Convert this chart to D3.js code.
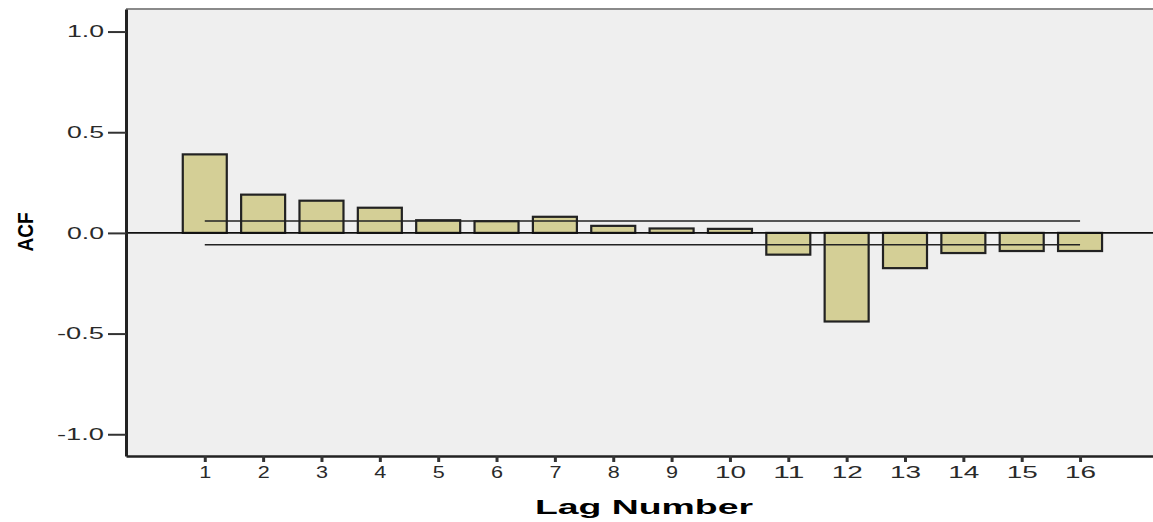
<!DOCTYPE html>
<html>
<head>
<meta charset="utf-8">
<script src="https://cdn.jsdelivr.net/npm/d3@7"></script>
<style>
  body { margin: 0; background: #fff; }
  svg { display: block; }
  text { font-family: "Liberation Sans", Arial, sans-serif; }
</style>
</head>
<body>
<div id="chart"></div>
<script>
// lag numbers and autocorrelations
const lags = [1, 2, 3, 4, 5, 6, 7, 8, 9, 10, 11, 12, 13, 14, 15, 16];
const acf = [0.39, 0.19, 0.16, 0.125, 0.063, 0.058, 0.08, 0.035, 0.022, 0.02,
             -0.108, -0.44, -0.175, -0.10, -0.09, -0.09];
const confUpper = 0.059;
const confLower = -0.059;
const yTicks = [-1.0, -0.5, 0.0, 0.5, 1.0];

const width = 1153, height = 522;
const margin = {top: 9, right: 0, bottom: 66, left: 126};

const svg = d3.select('#chart').append('svg')
  .attr('width', width)
  .attr('height', height);

const x = d3.scaleLinear().domain([-0.35, 17.25]).range([margin.left, width - margin.right]);
const y = d3.scaleLinear().domain([-1.108, 1.112]).range([height - margin.bottom, margin.top]);
const barW = 44;

// plot background
svg.append('rect')
  .attr('x', margin.left).attr('y', margin.top)
  .attr('width', width - margin.right - margin.left)
  .attr('height', height - margin.bottom - margin.top)
  .attr('fill', '#efefef');

// top frame line
svg.append('line')
  .attr('x1', margin.left).attr('x2', width)
  .attr('y1', margin.top).attr('y2', margin.top)
  .attr('stroke', '#8a8a8a').attr('stroke-width', 2);

// bars
svg.append('g').selectAll('rect')
  .data(acf)
  .enter().append('rect')
  .attr('x', (d, i) => x(lags[i]) - barW / 2)
  .attr('y', d => y(Math.max(0, d)))
  .attr('width', barW)
  .attr('height', d => Math.abs(y(d) - y(0)))
  .attr('fill', '#d4cf96')
  .attr('stroke', '#222')
  .attr('stroke-width', 2.2);

// zero reference line
svg.append('line')
  .attr('x1', margin.left).attr('x2', width)
  .attr('y1', y(0)).attr('y2', y(0))
  .attr('stroke', '#111').attr('stroke-width', 1.6);

// confidence limits
[confUpper, confLower].forEach(v => {
  svg.append('line')
    .attr('x1', x(lags[0])).attr('x2', x(lags[lags.length - 1]))
    .attr('y1', y(v)).attr('y2', y(v))
    .attr('stroke', '#222').attr('stroke-width', 1.6);
});

// y axis
const yAxis = svg.append('g')
  .attr('transform', 'translate(' + margin.left + ',0)')
  .call(d3.axisLeft(y).tickValues(yTicks).tickSize(18).tickSizeOuter(0).tickPadding(4)
    .tickFormat(d => d.toFixed(1)));
yAxis.select('.domain').attr('stroke', '#222').attr('stroke-width', 3);
yAxis.selectAll('.tick line').attr('stroke', '#333').attr('stroke-width', 2);
yAxis.selectAll('.tick text')
  .attr('fill', '#2a2a2a')
  .style('font-size', '16px')
  .attr('textLength', d => d < 0 ? 47 : 37)
  .attr('lengthAdjust', 'spacingAndGlyphs');

// x axis
const xAxis = svg.append('g')
  .attr('transform', 'translate(0,' + (height - margin.bottom) + ')')
  .call(d3.axisBottom(x).tickValues(lags).tickSize(6).tickSizeOuter(0).tickPadding(5)
    .tickFormat(d3.format('d')));
xAxis.select('.domain').attr('stroke', '#222').attr('stroke-width', 2.5);
xAxis.selectAll('.tick line').attr('stroke', '#333').attr('stroke-width', 3);
xAxis.selectAll('.tick text')
  .attr('fill', '#2a2a2a')
  .style('font-size', '16px')
  .attr('textLength', d => d >= 10 ? 31 : 12)
  .attr('lengthAdjust', 'spacingAndGlyphs');

// axis titles
svg.append('text')
  .attr('x', 644).attr('y', 514)
  .attr('text-anchor', 'middle')
  .style('font-size', '21px').style('font-weight', 'bold')
  .attr('textLength', 218).attr('lengthAdjust', 'spacingAndGlyphs')
  .text('Lag Number');

svg.append('text')
  .attr('transform', 'translate(33,232) rotate(-90)')
  .attr('text-anchor', 'middle')
  .style('font-size', '22px').style('font-weight', 'bold')
  .attr('textLength', 39).attr('lengthAdjust', 'spacingAndGlyphs')
  .text('ACF');
</script>
</body>
</html>
